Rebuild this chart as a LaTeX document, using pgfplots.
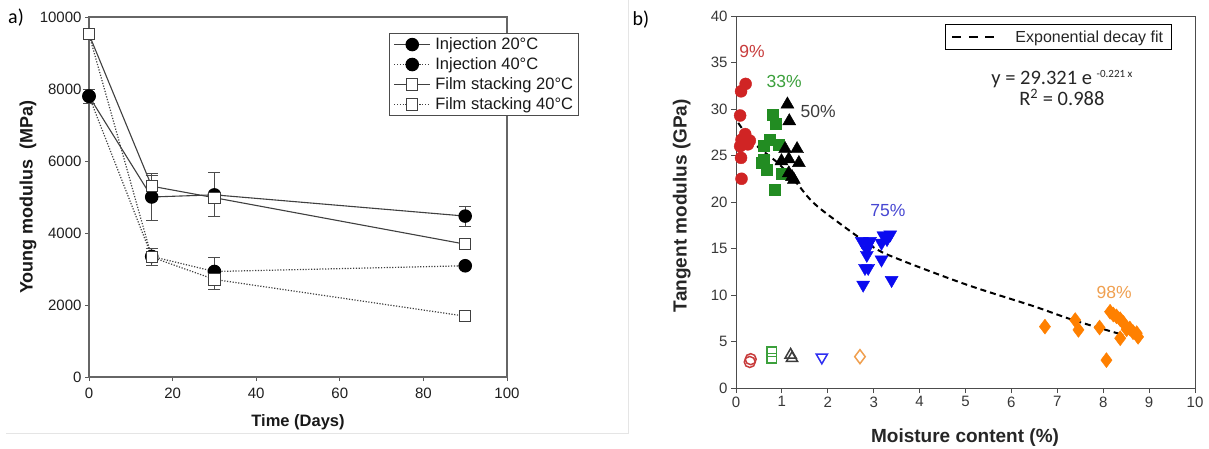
\documentclass[border=0pt]{standalone}
\usepackage{pgfplots}
\pgfplotsset{compat=1.18}
\usepackage{fontspec}
\setmainfont{Liberation Sans}
\newfontfamily\carlito{Carlito}
\definecolor{cred}{RGB}{208,36,36}
\definecolor{cgreen}{RGB}{34,140,34}
\definecolor{cblue}{RGB}{10,10,240}
\definecolor{corange}{RGB}{255,128,0}
\definecolor{lred}{RGB}{200,60,60}
\definecolor{lgreen}{RGB}{60,160,60}
\definecolor{lgray}{RGB}{60,60,60}
\definecolor{lblue}{RGB}{70,70,210}
\definecolor{lorange}{RGB}{240,160,80}
\begin{document}
\begin{tikzpicture}
\useasboundingbox (0pt,0pt) rectangle (1209pt,448pt);
\fill[white] (0pt,0pt) rectangle (1209pt,448pt);
\draw[black!10] (6pt,15pt) -- (628pt,15pt) -- (628pt,448pt);
\node[font=\carlito\fontsize{20}{22}\selectfont] at (16pt,430pt) {a)};
\node[font=\carlito\fontsize{20}{22}\selectfont] at (641pt,428pt) {b)};

% ---------------- panel a ----------------
\begin{axis}[
  at={(89pt,71pt)}, anchor=south west, scale only axis,
  width=418pt, height=360pt,
  xmin=0, xmax=100, ymin=0, ymax=10000,
  xtick={0,20,40,60,80,100}, ytick={0,2000,4000,6000,8000,10000},
  scaled y ticks=false,
  /pgf/number format/assume math mode=true,
  /pgf/number format/1000 sep={},
  tick label style={font=\fontsize{15}{17}\selectfont, text=black!88},
  xticklabel style={yshift=-3pt},
  tick align=outside, tick pos=left, major tick length=4pt,
  every tick/.style={black!65, line width=1pt},
  axis line style={black!60, line width=1.3pt},
  xlabel={Time (Days)}, ylabel={Young modulus\ \ (MPa)},
  xlabel style={font=\bfseries\fontsize{16.5}{18}\selectfont, text=black!90, at={(axis description cs:0.5,-0.125)}, anchor=center},
  ylabel style={font=\bfseries\fontsize{18}{20}\selectfont, text=black!90, at={(axis description cs:-0.146,0.5)}, anchor=center},
  legend image code/.code={\draw[mark repeat=2,mark phase=2,#1] plot coordinates {(0pt,0pt) (18pt,0pt) (36pt,0pt)};},
  legend style={at={(0.718,0.956)}, anchor=north west, draw=black!70, line width=1pt,
    font=\fontsize{16.5}{18}\selectfont, text=black!90, inner xsep=4pt, inner ysep=3pt,
    row sep=3.5pt, nodes={inner sep=1.5pt},
    /tikz/every odd column/.append style={column sep=3pt}},
  legend cell align=left,
  clip=false,
]
% error bars (drawn first, under markers)
\addplot[forget plot, draw=none, mark=none,
  error bars/.cd, y dir=both, y explicit,
  error bar style={draw=black!70, solid, line width=1pt},
  error mark options={rotate=90, draw=black!70, solid, mark size=6pt, line width=1pt}]
  coordinates {
  (0,7800) +- (0,190)
  (15,5000) +- (0,650)
  (30,5060) +- (0,610)
  (90,4470) +- (0,280)
  (15,5300) +- (0,300)
  (15,3330) +- (0,240)
  (30,2930) +- (0,400)
  (30,2710) +- (0,275)
  };
\addplot[black!75, line width=1.1pt, mark=*, mark size=6.2pt, mark options={fill=black, draw=black, solid}]
  coordinates {(0,7800) (15,5000) (30,5060) (90,4470)};
\addlegendentry{Injection 20°C}
\addplot[black!75, line width=1.2pt, dash pattern=on 1.2pt off 1.6pt, mark=*, mark size=6.2pt, mark options={fill=black, draw=black, solid}]
  coordinates {(0,7800) (15,3350) (30,2930) (90,3090)};
\addlegendentry{Injection 40°C}
\addplot[black!75, line width=1.1pt, mark=square*, mark size=5.7pt, mark options={fill=white, draw=black!75, solid, line width=1pt}]
  coordinates {(0,9520) (15,5300) (30,4980) (90,3690)};
\addlegendentry{Film stacking 20°C}
\addplot[black!75, line width=1.2pt, dash pattern=on 1.2pt off 1.6pt, mark=square*, mark size=5.7pt, mark options={fill=white, draw=black!75, solid, line width=1pt}]
  coordinates {(0,9520) (15,3330) (30,2710) (90,1690)};
\addlegendentry{Film stacking 40°C}
\end{axis}

% ---------------- panel b ----------------
\begin{axis}[
  at={(736pt,60pt)}, anchor=south west, scale only axis,
  width=459pt, height=372pt,
  xmin=0, xmax=10, ymin=0, ymax=40,
  xtick={0,1,...,10}, ytick={0,5,...,40},
  /pgf/number format/assume math mode=true,
  tick label style={font=\fontsize{15}{17}\selectfont, text=black!78},
  tick align=outside, tick pos=left, major tick length=5pt,
  every tick/.style={black!70, line width=1pt},
  axis line style={black!70, line width=1pt},
  xlabel={Moisture content (\%)}, ylabel={Tangent modulus (GPa)},
  xlabel style={font=\bfseries\fontsize{19}{21}\selectfont, text=black!85, at={(axis description cs:0.499,-0.132)}, anchor=center},
  ylabel style={font=\bfseries\fontsize{19}{21}\selectfont, text=black!85, at={(axis description cs:-0.118,0.49)}, anchor=center},
  legend style={at={(0.455,0.978)}, anchor=north west, draw=black, line width=1.2pt,
    font=\fontsize{16}{18}\selectfont, text=black!85, inner xsep=6pt, inner ysep=4pt,
    /tikz/every odd column/.append style={column sep=18pt}},
  clip=false,
]
\addplot[black, line width=2pt, dash pattern=on 6pt off 4pt, smooth,
  legend image code/.code={\draw[black, line width=2pt, dash pattern=on 9pt off 7.5pt] (0pt,0pt) -- (42pt,0pt);}]
  coordinates {(0.05,28.5) (0.37,26.4) (0.91,24.2) (1.31,22.1) (1.61,20.3) (1.96,18.8) (2.97,15.2) (3.57,13.8) (5.03,11.1) (6.48,8.8) (7.35,7.3) (8.44,5.7)};
\addlegendentry{Exponential decay fit}
% 9% red circles
\addplot[forget plot, only marks, mark=*, mark size=6pt, cred, mark options={fill=cred, draw=cred}]
  coordinates {(0.21,32.7) (0.11,31.9) (0.09,29.3) (0.2,27.3) (0.12,26.7) (0.26,26.2) (0.09,26.0) (0.3,26.6) (0.11,24.75) (0.12,22.5)};
% 33% green squares
\addplot[forget plot, only marks, mark=square*, mark size=5.5pt, cgreen, mark options={fill=cgreen, draw=cgreen}]
  coordinates {(0.81,29.4) (0.87,28.4) (0.6,26.1) (0.74,26.7) (0.92,26.2) (0.56,24.2) (0.6,24.6) (0.67,23.5) (0.99,23.0) (0.85,21.3)};
% 50% black triangles
\addplot[forget plot, only marks, mark=triangle*, mark size=7.5pt, black, mark options={fill=black, draw=black}]
  coordinates {(1.12,30.5) (1.16,28.7) (1.07,25.7) (1.33,25.7) (1.15,24.6) (1.37,24.2) (0.99,24.4) (1.15,23.1) (1.26,22.4) (1.22,22.7)};
% 75% blue inverted triangles
\addplot[forget plot, only marks, mark=triangle*, mark size=7.5pt, cblue, mark options={fill=cblue, draw=cblue, rotate=180}]
  coordinates {(2.74,15.8) (2.92,15.8) (2.85,14.9) (3.21,16.4) (3.36,16.5) (3.17,15.6) (3.29,16.0) (2.85,14.3) (3.17,13.8) (2.81,12.9) (2.88,12.9) (2.77,11.1) (3.39,11.6) (2.88,15.4)};
% 98% orange diamonds
\addplot[forget plot, only marks, mark=diamond*, mark size=7.5pt, corange, mark options={fill=corange, draw=corange}]
  coordinates {(6.73,6.6) (7.39,7.3) (7.46,6.25) (7.92,6.5) (8.15,8.2) (8.22,7.9) (8.29,7.7) (8.37,7.4) (8.44,7.0) (8.51,6.3) (8.58,6.4) (8.73,5.9) (8.37,5.35) (8.76,5.5) (8.07,3.0) (8.65,6.0)};
% open markers
\addplot[forget plot, only marks, mark=o, mark size=5.5pt, lred, mark options={line width=1.5pt}]
  coordinates {(0.3,2.8) (0.32,3.1)};
\addplot[forget plot, only marks, mark=square, mark size=4.8pt, lgreen, mark options={line width=1.5pt}]
  coordinates {(0.78,3.9) (0.78,3.2)};
\addplot[forget plot, only marks, mark=triangle, mark size=6.5pt, lgray, mark options={line width=1.5pt}]
  coordinates {(1.19,3.55) (1.22,3.2)};
\addplot[forget plot, only marks, mark=triangle, mark size=6.5pt, cblue!85!white, mark options={line width=1.5pt, rotate=180}]
  coordinates {(1.87,3.3)};
\addplot[forget plot, only marks, mark=diamond, mark size=7pt, lorange, mark options={line width=1.5pt}]
  coordinates {(2.7,3.37)};
% labels
\node[text=lred, font=\fontsize{17.5}{20}\selectfont] at (axis cs:0.35,36.2) {9\%};
\node[text=lgreen, font=\fontsize{17.5}{20}\selectfont] at (axis cs:1.05,33.0) {33\%};
\node[text=lgray, font=\fontsize{17.5}{20}\selectfont] at (axis cs:1.79,29.7) {50\%};
\node[text=lblue, font=\fontsize{17.5}{20}\selectfont] at (axis cs:3.31,19.1) {75\%};
\node[text=lorange, font=\fontsize{17.5}{20}\selectfont] at (axis cs:8.24,10.3) {98\%};
\node[font=\carlito\fontsize{20.5}{22}\selectfont, text=black!85] at (axis cs:7.10,33.2) {y = 29.321 e \raisebox{7pt}{\fontsize{11}{12}\selectfont -0.221 x}};
\node[font=\carlito\fontsize{20.5}{22}\selectfont, text=black!85] at (axis cs:7.10,31.25) {R\textsuperscript{2} = 0.988};
\end{axis}
\end{tikzpicture}
\end{document}
